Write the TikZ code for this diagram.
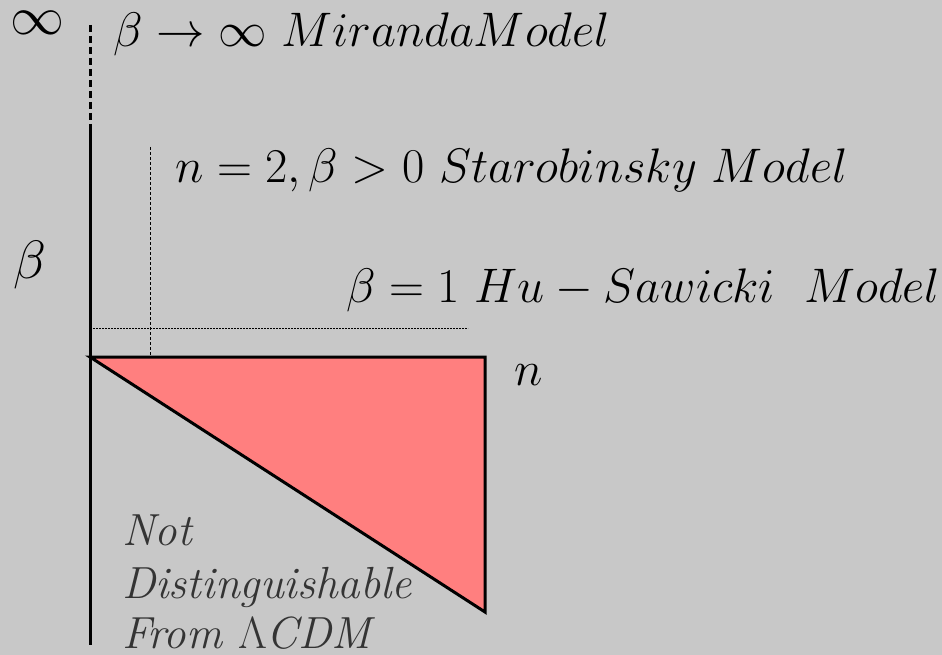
\RequirePackage{fix-cm}
\documentclass[tikz,border=0pt]{standalone}
\usepackage{amsmath}
\definecolor{bgc}{RGB}{200,200,200}
\definecolor{tri}{RGB}{255,127,127}
\definecolor{note}{RGB}{52,52,52}
\begin{document}
\begin{tikzpicture}[x=1pt,y=-1pt,
  axis/.style={line width=3pt,black},
  big/.style={inner sep=0pt,anchor=base west,font=\fontsize{54}{60}\selectfont},
  mid/.style={inner sep=0pt,anchor=base west,font=\fontsize{48.5}{56}\selectfont},
  notetext/.style={inner sep=0pt,anchor=base west,text=note,font=\fontsize{45}{52}\selectfont\itshape,align=left}]
\fill[bgc] (0,0) rectangle (942,655);
\useasboundingbox (0,0) rectangle (942,655);
% coordinates
\coordinate (top) at (90,25);
\coordinate (solidtop) at (90,125);
\coordinate (bottom) at (90,645);
\coordinate (O) at (90,357);
\coordinate (R) at (485,357);
\coordinate (B) at (485,612);
\coordinate (hl) at (90,328);
\coordinate (hr) at (468,328);
\coordinate (vt) at (150,147);
\coordinate (vb) at (150,357);
% triangle
\filldraw[fill=tri,draw=black,line width=3pt,line join=miter] (O) -- (R) -- (B) -- cycle;
% axes
\draw[axis,dash pattern=on 7pt off 4pt] (top) -- (solidtop);
\draw[axis] (solidtop) -- (bottom);
% guides
\draw[line width=1pt,dash pattern=on 2pt off 1pt] (hl) -- (hr);
\draw[line width=1pt,dash pattern=on 3pt off 2pt] (vt) -- (vb);
% labels
\node[big] (inf) at (10,35) {$\infty$};
\node[mid] (mir) at (113,47) {$\beta \rightarrow \infty\ MirandaModel$};
\node[big] (beta) at (13,278) {$\beta$};
\node[mid] (star) at (175,183) {$n=2, \beta>0\ Starobinsky\ Model$};
\node[mid] (hu) at (346,302) {$\beta=1\ Hu-Sawicki\ \ Model$};
\node[mid] (nlab) at (514,385) {$n$};
\node[notetext] (not) at (122,545) {Not};
\node[notetext] (dist) at (122,598) {Distinguishable};
\node[notetext] (from) at (122,648) {From $\Lambda$CDM};
\end{tikzpicture}
\end{document}
